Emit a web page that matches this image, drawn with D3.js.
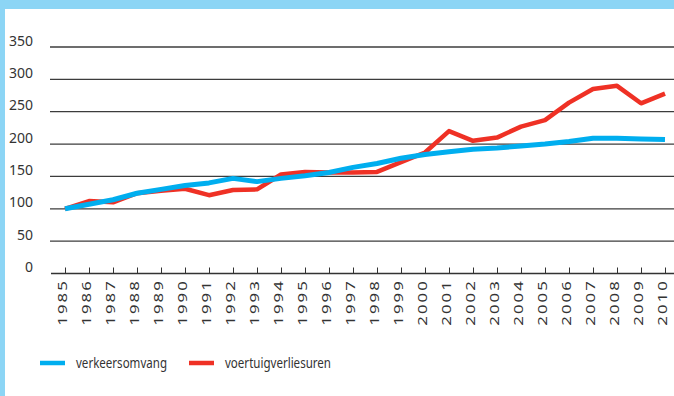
<!DOCTYPE html>
<html>
<head>
<meta charset="utf-8">
<script src="https://cdn.jsdelivr.net/npm/d3@7"></script>
<style>
  html, body { margin: 0; padding: 0; background: #fff; }
  svg { display: block; }
  text { font-family: "Noto Sans", "Open Sans", sans-serif; fill: #333; }
</style>
</head>
<body>
<div id="chart"></div>
<script>
// Index 1985 = 100
const years = d3.range(1985, 2011);
const verkeersomvang = [100, 107, 114, 124, 130, 136, 140, 147, 142, 147, 151, 156, 164,
                        170, 178, 184, 188, 192, 194, 197, 200, 204, 209, 209, 208, 207];
const voertuigverliesuren = [100, 112, 110, 124, 128, 131, 121, 129, 130, 153, 157, 156, 156,
                             157, 172, 187, 220, 205, 210, 227, 237, 264, 285, 290, 263, 278];
const yTicks = [0, 50, 100, 150, 200, 250, 300, 350];
const seriesNames = ["verkeersomvang", "voertuigverliesuren"];
const seriesColors = ["#00aeef", "#ef3125"];

const W = 674, H = 396;
const svg = d3.select("#chart").append("svg").attr("width", W).attr("height", H);

// light blue frame on top and left
svg.append("rect").attr("x", 0).attr("y", 0).attr("width", W).attr("height", 9).attr("fill", "#8cd5f5");
svg.append("rect").attr("x", 0).attr("y", 0).attr("width", 5).attr("height", H).attr("fill", "#8cd5f5");

const x = d3.scaleLinear().domain([1985, 2010]).range([65, 665]);
const y = d3.scaleLinear().domain([0, 350]).range([273.5, 47]);

// horizontal gridlines
svg.append("g").selectAll("line").data(yTicks.filter(d => d > 0)).join("line")
  .attr("x1", 50).attr("x2", W)
  .attr("y1", d => y(d)).attr("y2", d => y(d))
  .attr("stroke", "#3c3c3c").attr("stroke-width", 1.3);

// y labels
svg.append("g").selectAll("text").data(yTicks).join("text")
  .attr("x", 33).attr("y", d => y(d) - 1.5)
  .attr("text-anchor", "end")
  .attr("font-size", 14)
  .text(d => d);

// x axis with upward ticks
const xAxis = svg.append("g").attr("transform", `translate(0,${y(0)})`)
  .call(d3.axisTop(x).tickValues(years).tickSize(6).tickFormat("").tickSizeOuter(0));
xAxis.select(".domain").attr("d", `M51,0H${W}`).attr("stroke", "#333").attr("stroke-width", 1.3);
xAxis.selectAll(".tick line").attr("stroke", "#333").attr("stroke-width", 1);

// year labels, rotated and stretched along the reading direction
svg.append("g").selectAll("text").data(years).join("text")
  .attr("transform", d => `translate(${x(d) + 1.5},279) rotate(-90) scale(1.4,1)`)
  .attr("text-anchor", "end")
  .attr("font-size", 12)
  .attr("letter-spacing", 1.5)
  .text(d => d);

// lines
const line = d3.line().x((d, i) => x(years[i])).y(d => y(d));
svg.append("path").datum(voertuigverliesuren)
  .attr("d", line).attr("fill", "none")
  .attr("stroke", seriesColors[1]).attr("stroke-width", 4.5).attr("stroke-linejoin", "round");
svg.append("path").datum(verkeersomvang)
  .attr("d", line).attr("fill", "none")
  .attr("stroke", seriesColors[0]).attr("stroke-width", 5).attr("stroke-linejoin", "round");

// legend (condensed labels)
const legendX = [40, 189];
const legendTextLen = [91, 106];
const lg = svg.append("g").selectAll("g").data(seriesNames).join("g")
  .attr("transform", (d, i) => `translate(${legendX[i]},363)`);
lg.append("line").attr("x1", 0).attr("x2", 25).attr("y1", 0).attr("y2", 0)
  .attr("stroke", (d, i) => seriesColors[i]).attr("stroke-width", 4.5);
lg.append("text").attr("x", 36).attr("y", 5).attr("font-size", 14)
  .attr("textLength", (d, i) => legendTextLen[i]).attr("lengthAdjust", "spacingAndGlyphs")
  .text(d => d);
</script>
</body>
</html>
